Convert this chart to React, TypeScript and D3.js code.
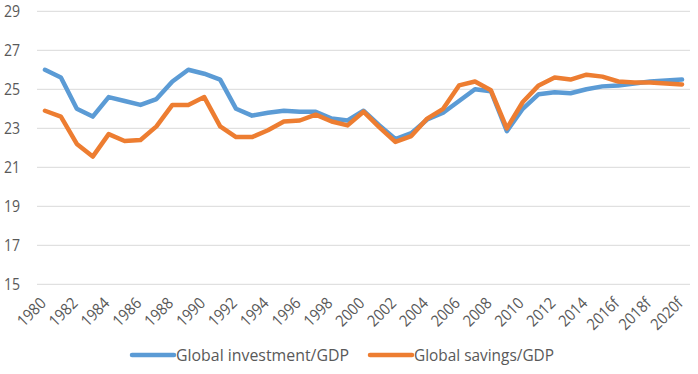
import { useRef, useEffect } from 'react';
import * as d3 from 'd3';

// Years on the category axis; forecast years carry an "f" suffix
const years: string[] = [
  '1980', '1981', '1982', '1983', '1984', '1985', '1986', '1987', '1988', '1989',
  '1990', '1991', '1992', '1993', '1994', '1995', '1996', '1997', '1998', '1999',
  '2000', '2001', '2002', '2003', '2004', '2005', '2006', '2007', '2008', '2009',
  '2010', '2011', '2012', '2013', '2014', '2015f', '2016f', '2017f', '2018f', '2019f',
  '2020f',
];

const investment: number[] = [
  26.0, 25.6, 24.0, 23.6, 24.6, 24.4, 24.2, 24.5, 25.4, 26.0,
  25.8, 25.5, 24.0, 23.65, 23.8, 23.9, 23.85, 23.85, 23.5, 23.4,
  23.9, 23.15, 22.45, 22.75, 23.45, 23.8, 24.4, 25.0, 24.9, 22.85,
  24.0, 24.75, 24.85, 24.8, 25.0, 25.15, 25.2, 25.3, 25.4, 25.45,
  25.5,
];

const savings: number[] = [
  23.9, 23.6, 22.2, 21.55, 22.7, 22.35, 22.4, 23.1, 24.2, 24.2,
  24.6, 23.1, 22.55, 22.55, 22.9, 23.35, 23.4, 23.7, 23.35, 23.15,
  23.85, 23.05, 22.3, 22.6, 23.5, 24.0, 25.2, 25.4, 24.95, 23.0,
  24.35, 25.2, 25.6, 25.5, 25.75, 25.65, 25.4, 25.35, 25.35, 25.3,
  25.25,
];

const yTicks: number[] = [15, 17, 19, 21, 23, 25, 27, 29];

const seriesNames = ['Global investment/GDP', 'Global savings/GDP'];
const seriesColors = ['#5B9BD5', '#ED7D31'];

const WIDTH = 698;
const HEIGHT = 374;
const FONT = '"Open Sans", "DejaVu Sans", sans-serif';
const TEXT_COLOR = '#595959';

export default function App() {
  const svgRef = useRef<SVGSVGElement>(null);

  useEffect(() => {
    if (!svgRef.current) return;
    const svg = d3.select(svgRef.current);
    svg.selectAll('*').remove();

    const plot = { left: 37, right: 690, top: 11.3, bottom: 284.3 };

    const xScale = d3.scaleBand<string>()
      .domain(years)
      .range([plot.left, plot.right]);

    const yScale = d3.scaleLinear()
      .domain([15, 29])
      .range([plot.bottom, plot.top]);

    const xPos = (i: number) => (xScale(years[i]) ?? 0) + xScale.bandwidth() / 2;

    // Horizontal gridlines
    svg.append('g')
      .selectAll('line')
      .data(yTicks)
      .join('line')
      .attr('x1', plot.left)
      .attr('x2', plot.right)
      .attr('y1', d => yScale(d))
      .attr('y2', d => yScale(d))
      .attr('stroke', '#D9D9D9')
      .attr('stroke-width', 1);

    // Y tick labels (slightly condensed)
    svg.append('g')
      .selectAll('text')
      .data(yTicks)
      .join('text')
      .attr('dy', '0.35em')
      .attr('text-anchor', 'end')
      .attr('font-family', FONT)
      .attr('font-size', 16)
      .attr('fill', TEXT_COLOR)
      .attr('transform', d => `translate(20,${yScale(d)}) scale(0.88,1)`)
      .text(d => d);

    // X tick labels, every second year, rotated
    const shown = years.filter((_, i) => i % 2 === 0);
    svg.append('g')
      .selectAll('text')
      .data(shown)
      .join('text')
      .attr('text-anchor', 'end')
      .attr('font-family', FONT)
      .attr('font-size', 16)
      .attr('fill', TEXT_COLOR)
      .attr('transform', d => {
        const x = (xScale(d) ?? 0) + xScale.bandwidth() / 2 + 2;
        return `translate(${x},${plot.bottom + 20}) rotate(-45) scale(0.9,1)`;
      })
      .text(d => d);

    // Series lines
    const line = d3.line<number>()
      .x((_, i) => xPos(i))
      .y(d => yScale(d));

    [investment, savings].forEach((values, k) => {
      svg.append('path')
        .datum(values)
        .attr('fill', 'none')
        .attr('stroke', seriesColors[k])
        .attr('stroke-width', 4.5)
        .attr('stroke-linejoin', 'round')
        .attr('stroke-linecap', 'round')
        .attr('d', line);
    });

    // Legend
    const legendX = [132, 370];
    const legendY = 355;
    seriesNames.forEach((name, k) => {
      const g = svg.append('g').attr('transform', `translate(${legendX[k]},${legendY})`);
      g.append('line')
        .attr('x1', 0)
        .attr('x2', 42)
        .attr('y1', 0)
        .attr('y2', 0)
        .attr('stroke', seriesColors[k])
        .attr('stroke-width', 4.5)
        .attr('stroke-linecap', 'round');
      g.append('text')
        .attr('x', 44)
        .attr('y', 0)
        .attr('dy', '0.35em')
        .attr('font-family', FONT)
        .attr('font-size', 17)
        .attr('fill', TEXT_COLOR)
        .attr('textLength', k === 0 ? 173 : 140)
        .attr('lengthAdjust', 'spacingAndGlyphs')
        .text(name);
    });
  }, []);

  return (
    <svg
      ref={svgRef}
      width={WIDTH}
      height={HEIGHT}
      style={{ position: 'fixed', left: 0, top: 0, background: '#fff' }}
    />
  );
}
